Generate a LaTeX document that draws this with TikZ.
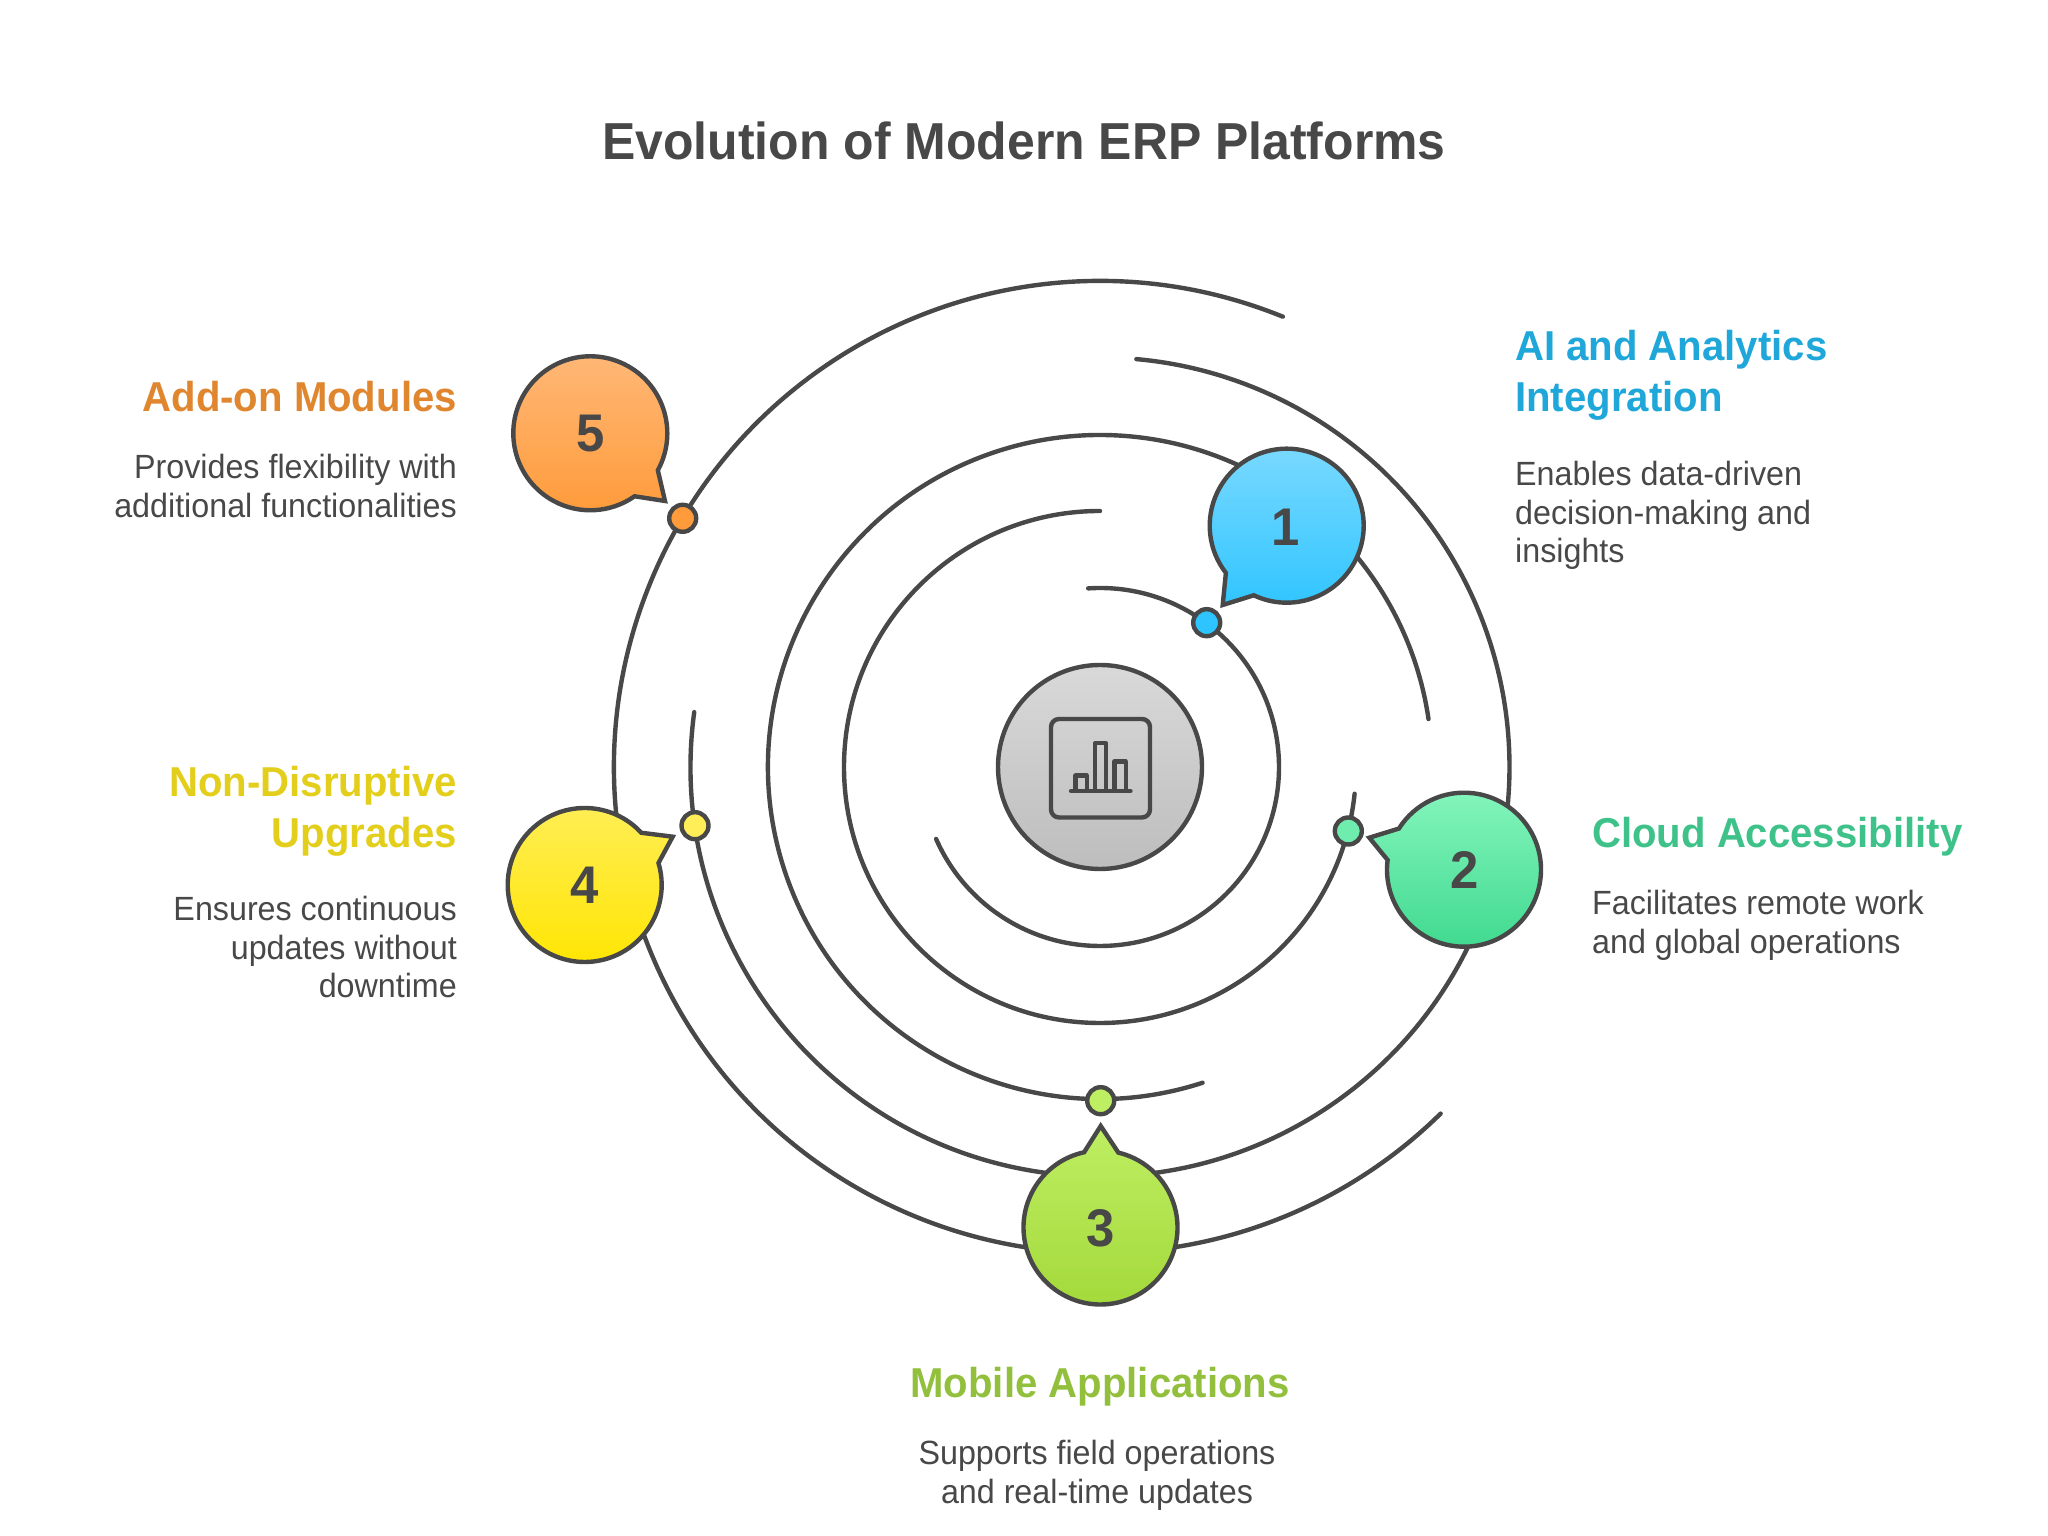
\documentclass[tikz,border=0pt]{standalone}
\usepackage{fontspec}
\setmainfont[FakeStretch=0.96]{Liberation Sans}
\definecolor{ink}{HTML}{484848}
\definecolor{cBlue}{HTML}{1EA7D8}
\definecolor{cGreen}{HTML}{3EC28A}
\definecolor{cLime}{HTML}{92BF3C}
\definecolor{cYellow}{HTML}{E3CE1B}
\definecolor{cOrange}{HTML}{E0862F}
\definecolor{hubTop}{HTML}{D9D9D9}
\definecolor{hubBot}{HTML}{BDBDBD}
\definecolor{aTop}{HTML}{7DDAFF}\definecolor{aBot}{HTML}{2DC4FF}
\definecolor{bTop}{HTML}{84F5BC}\definecolor{bBot}{HTML}{3FD98F}
\definecolor{cTop}{HTML}{BEEE62}\definecolor{cBot}{HTML}{A3D93A}
\definecolor{dTop}{HTML}{FFEE58}\definecolor{dBot}{HTML}{FFE500}
\definecolor{eTop}{HTML}{FFB97A}\definecolor{eBot}{HTML}{FF9B3A}
\newcommand{\ringarc}[3]{\draw[ring] ([shift={(ctr)}]#2:#1) arc[start angle=#2,end angle=#3,radius=#1];}
\newcommand{\bubble}[8]{\path[ring,line cap=butt,line join=miter,top color=#7,bottom color=#8] (#3,#4) -- ([shift={(#1,#2)}]#5:77) arc[start angle=#5,end angle=#6,radius=77] -- cycle;}
\tikzset{
 ring/.style={draw=ink,line width=4.4pt,line cap=round},
 dot/.style={circle,draw=ink,line width=4.4pt,minimum size=27pt,inner sep=0pt},
 num/.style={font=\fontsize{53}{53}\selectfont\bfseries,text=ink,inner sep=0pt},
 head/.style={font=\fontsize{41.8}{51}\selectfont\bfseries,inner sep=0pt},
 body/.style={font=\fontsize{33.6}{38.5}\selectfont,text=ink,inner sep=0pt},
 ttl/.style={font=\fontsize{52}{60}\selectfont\bfseries,text=ink,inner sep=0pt},
 icon/.style={draw=ink,line width=4.4pt,line join=round}
}
\begin{document}
\begin{tikzpicture}[x=1pt,y=1pt]
\useasboundingbox (0,0) rectangle (2048,1536);
\coordinate (ctr) at (1100,769);
\node[ttl] (title) at (1024,1395) {Evolution of Modern ERP Platforms};
% rings
\ringarc{179}{93.8}{-156.3}
\ringarc{256}{90}{354}
\ringarc{332}{-72}{-351.7}
\ringarc{409.5}{172.3}{444.9}
\ringarc{486}{67.9}{314.5}
% centre
\node[circle,draw=ink,line width=4.4pt,minimum size=204pt,inner sep=0pt,top color=hubTop,bottom color=hubBot] (hub) at (ctr) {};
\draw[icon,rounded corners=8pt] (1051,718.5) rectangle (1150,817);
\draw[icon,line cap=round] (1071,745) -- (1130.5,745);
\draw[icon] (1075.5,745) -- (1075.5,760.3) -- (1086.7,760.3) -- (1086.7,745);
\draw[icon] (1095,745) -- (1095,792.7) -- (1106,792.7) -- (1106,745);
\draw[icon] (1114.3,745) -- (1114.3,774.3) -- (1125.7,774.3) -- (1125.7,745);
% dots
\node[dot,fill=aBot] (d1) at (1206.7,913.3) {};
\node[dot,fill=bTop!70!bBot] (d2) at (1348.3,705) {};
\node[dot,fill=cTop] (d3) at (1100.7,435.3) {};
\node[dot,fill=dTop] (d4) at (695,710.3) {};
\node[dot,fill=eBot] (d5) at (682.7,1017.7) {};
% bubbles
\bubble{1286.7}{1010.3}{1222.7}{931}{244.7}{577.8}{aTop}{aBot}
\bubble{1464}{666.3}{1369.3}{698.3}{172.8}{507.7}{bTop}{bBot}
\bubble{1100.5}{308.5}{1100.7}{410}{102.3}{436.6}{cTop}{cBot}
\bubble{584.7}{651}{672.7}{699.3}{42.7}{376.6}{dTop}{dBot}
\bubble{590.3}{1102.7}{665}{1035}{-28.7}{305.1}{eTop}{eBot}
\node[num] (n1) at (1286,1009) {1};
\node[num] (n2) at (1465,666) {2};
\node[num] (n3) at (1100.5,308) {3};
\node[num] (n4) at (584.7,651) {4};
\node[num] (n5) at (591,1102.5) {5};
% labels
\node[head,text=cBlue,anchor=north west,align=left] (h1) at (1515,1206) {AI and Analytics\\Integration};
\node[body,anchor=north west,align=left] (t1) at (1515,1075) {Enables data-driven\\decision-making and\\insights};
\node[head,text=cGreen,anchor=north west,align=left] (h2) at (1592,719) {Cloud Accessibility};
\node[body,anchor=north west,align=left] (t2) at (1592,646) {Facilitates remote work\\and global operations};
\node[head,text=cLime,anchor=north,align=center] (h3) at (1100,169) {Mobile Applications};
\node[body,anchor=north,align=center] (t3) at (1097,96) {Supports field operations\\and real-time updates};
\node[head,text=cYellow,anchor=north east,align=right] (h4) at (457,770) {Non-Disruptive\\Upgrades};
\node[body,anchor=north east,align=right] (t4) at (457,640) {Ensures continuous\\updates without\\downtime};
\node[head,text=cOrange,anchor=north east,align=right] (h5) at (457,1155) {Add-on Modules};
\node[body,anchor=north east,align=right] (t5) at (457,1082) {Provides flexibility with\\additional functionalities};
\end{tikzpicture}
\end{document}
